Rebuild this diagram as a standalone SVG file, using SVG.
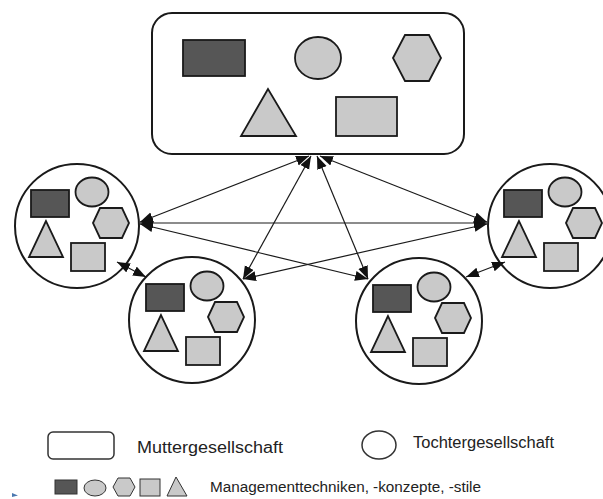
<svg xmlns="http://www.w3.org/2000/svg" xmlns:xlink="http://www.w3.org/1999/xlink" width="603" height="499" viewBox="0 0 603 499">
<style>
.frame{fill:#ffffff;stroke:#1a1a1a;stroke-width:2}
.dark{fill:#565656;stroke:#1a1a1a;stroke-width:1.8}
.light{fill:#c9c9c9;stroke:#1a1a1a;stroke-width:1.8}
.conn{stroke:#1a1a1a;stroke-width:1.2;fill:none;marker-start:url(#ah);marker-end:url(#ah)}
.lbl{font-family:"Liberation Sans",Arial,sans-serif;fill:#222}
</style>
<defs>
<marker id="ah" markerUnits="userSpaceOnUse" markerWidth="14" markerHeight="11" refX="13" refY="5" orient="auto-start-reverse">
<path d="M0,0 L13,5 L0,10 z" fill="#111"/>
</marker>
<g id="kit">
<rect class="dark" x="-46" y="-36" width="38" height="27"/>
<ellipse class="light" cx="15" cy="-34" rx="16.5" ry="14.5"/>
<polygon class="light" points="16,-3 23,-18 45,-18 52,-3 45,12 23,12"/>
<polygon class="light" points="-31,-5 -48,31 -14,31"/>
<rect class="light" x="-6" y="17" width="34" height="28"/>
</g>
</defs>
<rect width="603" height="499" fill="#ffffff"/>

<g id="parent">
<rect class="frame" x="152" y="13" width="312" height="141" rx="20"/>
<rect class="dark" x="183" y="40" width="62" height="36"/>
<ellipse class="light" cx="318" cy="58" rx="23" ry="21"/>
<polygon class="light" points="393,58 405,35 429,35 441,58 429,81 405,81"/>
<polygon class="light" points="268,89 241,136 296,136"/>
<rect class="light" x="336" y="97" width="61" height="39"/>
</g>

<g id="daughter-left">
<circle class="frame" cx="77" cy="226" r="62"/>
<use xlink:href="#kit" x="77" y="226"/>
</g>
<g id="daughter-right">
<circle class="frame" cx="550" cy="226" r="62"/>
<use xlink:href="#kit" x="550" y="226"/>
</g>
<g id="daughter-bottom-left">
<circle class="frame" cx="192" cy="320" r="63"/>
<use xlink:href="#kit" x="192" y="320"/>
</g>
<g id="daughter-bottom-right">
<circle class="frame" cx="419" cy="321" r="63"/>
<use xlink:href="#kit" x="419" y="321"/>
</g>

<g id="connectors">
<line class="conn" x1="309" y1="156" x2="140" y2="222"/>
<line class="conn" x1="311" y1="156" x2="243" y2="279"/>
<line class="conn" x1="317" y1="156" x2="368" y2="279"/>
<line class="conn" x1="320" y1="156" x2="487" y2="222"/>
<line class="conn" x1="140" y1="223" x2="487" y2="223"/>
<line class="conn" x1="140" y1="224" x2="368" y2="279"/>
<line class="conn" x1="487" y1="224" x2="243" y2="279"/>
<line class="conn" x1="117" y1="262" x2="146" y2="277"/>
<line class="conn" x1="505" y1="262" x2="466" y2="277"/>
</g>

<g id="legend">
<rect x="48" y="432" width="66" height="27" rx="5" fill="#fff" stroke="#333" stroke-width="1.5"/>
<text class="lbl" x="137" y="453" font-size="16" textLength="146" lengthAdjust="spacingAndGlyphs">Muttergesellschaft</text>
<ellipse cx="379" cy="445" rx="17" ry="14" fill="#fff" stroke="#333" stroke-width="1.5"/>
<text class="lbl" x="413" y="448" font-size="16" textLength="141" lengthAdjust="spacingAndGlyphs">Tochtergesellschaft</text>
<rect x="55" y="480" width="22" height="14" fill="#565656" stroke="#333" stroke-width="1"/>
<ellipse cx="95" cy="488" rx="11" ry="8" fill="#c9c9c9" stroke="#333" stroke-width="1"/>
<polygon points="113,487 118,478 130,478 135,487 130,496 118,496" fill="#c9c9c9" stroke="#333" stroke-width="1"/>
<rect x="140" y="479" width="20" height="17" fill="#c9c9c9" stroke="#333" stroke-width="1"/>
<polygon points="176,477 167,496 187,496" fill="#c9c9c9" stroke="#333" stroke-width="1"/>
<text class="lbl" x="210" y="492" font-size="14" textLength="271" lengthAdjust="spacingAndGlyphs">Managementtechniken, -konzepte, -stile</text>
<polygon points="12,493 18,495.5 12,497" fill="#4a78b0"/>
</g>
</svg>
